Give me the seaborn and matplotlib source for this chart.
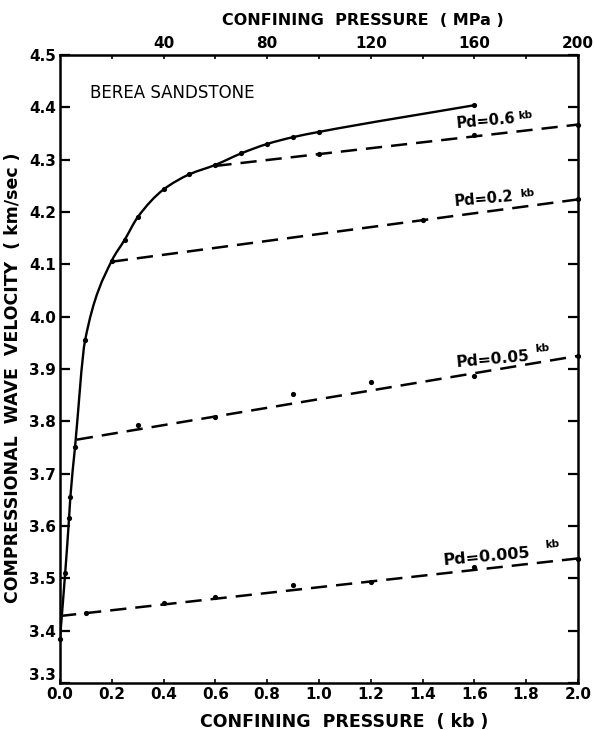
import numpy as np
import pandas as pd
import matplotlib
matplotlib.use("Agg")
import matplotlib.pyplot as plt
from matplotlib.path import Path
from matplotlib.patches import PathPatch
import seaborn as sns

# Loading curve (confining pressure in kb, P-wave velocity in km/s)
loading_p = [0.0, 0.02, 0.035, 0.04, 0.058, 0.097, 0.20, 0.25, 0.30, 0.40, 0.50, 0.60, 0.70, 0.80, 0.90, 1.00, 1.60]
loading_v = [3.385, 3.51, 3.615, 3.655, 3.75, 3.955, 4.107, 4.147, 4.19, 4.243, 4.272, 4.29, 4.312, 4.33, 4.343, 4.353, 4.404]

# Unloading runs at fixed differential pressure Pd
pd_labels = ["Pd=0.6", "Pd=0.2", "Pd=0.05", "Pd=0.005"]
pd06_p = [1.0, 1.6, 2.0]
pd06_v = [4.311, 4.347, 4.366]
pd02_p = [1.4, 2.0]
pd02_v = [4.185, 4.225]
pd005_p = [0.30, 0.60, 0.90, 1.20, 1.60, 2.0]
pd005_v = [3.793, 3.808, 3.853, 3.875, 3.887, 3.925]
pd0005_p = [0.10, 0.40, 0.60, 0.90, 1.20, 1.60, 2.0]
pd0005_v = [3.434, 3.453, 3.465, 3.487, 3.493, 3.522, 3.537]

# Straight-line fits for each Pd run: start point and value at 2.0 kb
fit_start_p = [0.6, 0.2, 0.065, 0.0]
fit_start_v = [4.288, 4.105, 3.765, 3.428]
fit_end_p = [2.0, 2.0, 2.0, 2.0]
fit_end_v = [4.367, 4.224, 3.925, 3.538]

x_ticks = [0.0, 0.2, 0.4, 0.6, 0.8, 1.0, 1.2, 1.4, 1.6, 1.8, 2.0]
y_ticks = [3.3, 3.4, 3.5, 3.6, 3.7, 3.8, 3.9, 4.0, 4.1, 4.2, 4.3, 4.4, 4.5]
mpa_ticks = [40, 80, 120, 160, 200]

sns.set_style("ticks")
plt.rcParams.update({
    "font.family": ["DejaVu Sans"],
    "text.color": "black",
    "axes.labelcolor": "black",
    "xtick.color": "black",
    "ytick.color": "black",
    "axes.edgecolor": "black",
})

fig = plt.figure(figsize=(5.94, 7.30), dpi=100)
ax = fig.add_axes([0.101, 0.0644, 0.872, 0.8603])


def smooth_path(x, y):
    """Monotone cubic (Fritsch-Carlson) curve through the points as Bezier segments."""
    x = np.asarray(x, float)
    y = np.asarray(y, float)
    h = np.diff(x)
    d = np.diff(y) / h
    m = np.empty_like(y)
    m[0], m[-1] = d[0], d[-1]
    for k in range(1, len(x) - 1):
        if d[k - 1] * d[k] <= 0:
            m[k] = 0.0
        else:
            w1 = 2 * h[k] + h[k - 1]
            w2 = h[k] + 2 * h[k - 1]
            m[k] = (w1 + w2) / (w1 / d[k - 1] + w2 / d[k])
    verts = [(x[0], y[0])]
    codes = [Path.MOVETO]
    for k in range(len(x) - 1):
        verts += [(x[k] + h[k] / 3, y[k] + m[k] * h[k] / 3),
                  (x[k + 1] - h[k] / 3, y[k + 1] - m[k + 1] * h[k] / 3),
                  (x[k + 1], y[k + 1])]
        codes += [Path.CURVE4] * 3
    return Path(verts, codes)


ax.add_patch(PathPatch(smooth_path(loading_p, loading_v), fill=False,
                       edgecolor="black", lw=1.7, transform=ax.transData))
loading = pd.DataFrame({"p": loading_p, "v": loading_v})
sns.scatterplot(data=loading, x="p", y="v", ax=ax, color="black", s=14,
                edgecolor="black", linewidth=0, clip_on=False, zorder=5)

for sp, sv, ep, ev in zip(fit_start_p, fit_start_v, fit_end_p, fit_end_v):
    seg = pd.DataFrame({"p": [sp, ep], "v": [sv, ev]})
    sns.lineplot(data=seg, x="p", y="v", ax=ax, color="black", lw=1.8,
                 linestyle=(0, (6.5, 3.6)), sort=False, estimator=None)

for xs, ys in [(pd06_p, pd06_v), (pd02_p, pd02_v), (pd005_p, pd005_v), (pd0005_p, pd0005_v)]:
    pts = pd.DataFrame({"p": xs, "v": ys})
    sns.scatterplot(data=pts, x="p", y="v", ax=ax, color="black", s=14,
                    edgecolor="black", linewidth=0, clip_on=False, zorder=5)

ax.set_xlim(0, 2.0)
ax.set_ylim(3.3, 4.5)
ax.set_xticks(x_ticks)
ax.set_xticklabels([f"{t:.1f}" for t in x_ticks])
ax.set_yticks(y_ticks)
ax.set_yticklabels([f"{t:.1f}" for t in y_ticks])
ax.tick_params(axis="x", direction="in", length=3, width=1.2, pad=3,
               labelsize=11)
ax.tick_params(axis="y", direction="in", length=7, width=1.6, pad=3,
               labelsize=11, right=True)
for lab in ax.get_xticklabels() + ax.get_yticklabels():
    lab.set_fontweight("bold")
# lift the lowest velocity label so it clears the 0.0 label below it
ax.get_yticklabels()[0].set_va("bottom")
for s in ax.spines.values():
    s.set_visible(True)
    s.set_linewidth(1.8)
    s.set_color("black")

ax.set_xlabel("CONFINING  PRESSURE  ( kb )", fontsize=12.5, fontweight="bold")
ax.xaxis.set_label_coords(0.548, -0.047)
ax.set_ylabel("COMPRESSIONAL  WAVE  VELOCITY  ( km/sec )", fontsize=12.5,
              fontweight="bold")
ax.yaxis.set_label_coords(-0.073, 0.486)

# Upper axis in MPa (1 kb = 100 MPa)
top = ax.secondary_xaxis("top", functions=(lambda k: k * 100, lambda m: m / 100))
top.set_xticks(mpa_ticks)
top.set_xticklabels([str(m) for m in mpa_ticks])
top.set_xticks([20, 60, 100, 140, 180], minor=True)
top.tick_params(axis="x", which="both", direction="in", length=3, width=1.2,
                pad=3, labelsize=11)
for lab in top.get_xticklabels():
    lab.set_fontweight("bold")
ax.text(0.585, 1.043, "CONFINING  PRESSURE  ( MPa )", transform=ax.transAxes,
        fontsize=11.5, fontweight="bold", ha="center", va="bottom")

ax.text(0.116, 4.418, "BEREA SANDSTONE", fontsize=12, ha="left",
        va="baseline")

label_sizes = [10.5, 10.5, 11.2, 11.5]
label_pos = [(1.533, 4.360), (1.525, 4.211), (1.533, 3.904), (1.479, 3.525)]
kb_pos = [(1.770, 4.378), (1.775, 4.228), (1.834, 3.932), (1.873, 3.558)]
for txt, fs, (lx, ly), (kx, ky) in zip(pd_labels, label_sizes, label_pos, kb_pos):
    ax.text(lx, ly, txt, fontsize=fs, fontweight="bold", rotation=5,
            ha="left", va="baseline", rotation_mode="anchor")
    ax.text(kx, ky, "kb", fontsize=7.5, fontweight="bold", rotation=5,
            ha="left", va="baseline", rotation_mode="anchor")

fig.savefig("out.png", dpi=100)
